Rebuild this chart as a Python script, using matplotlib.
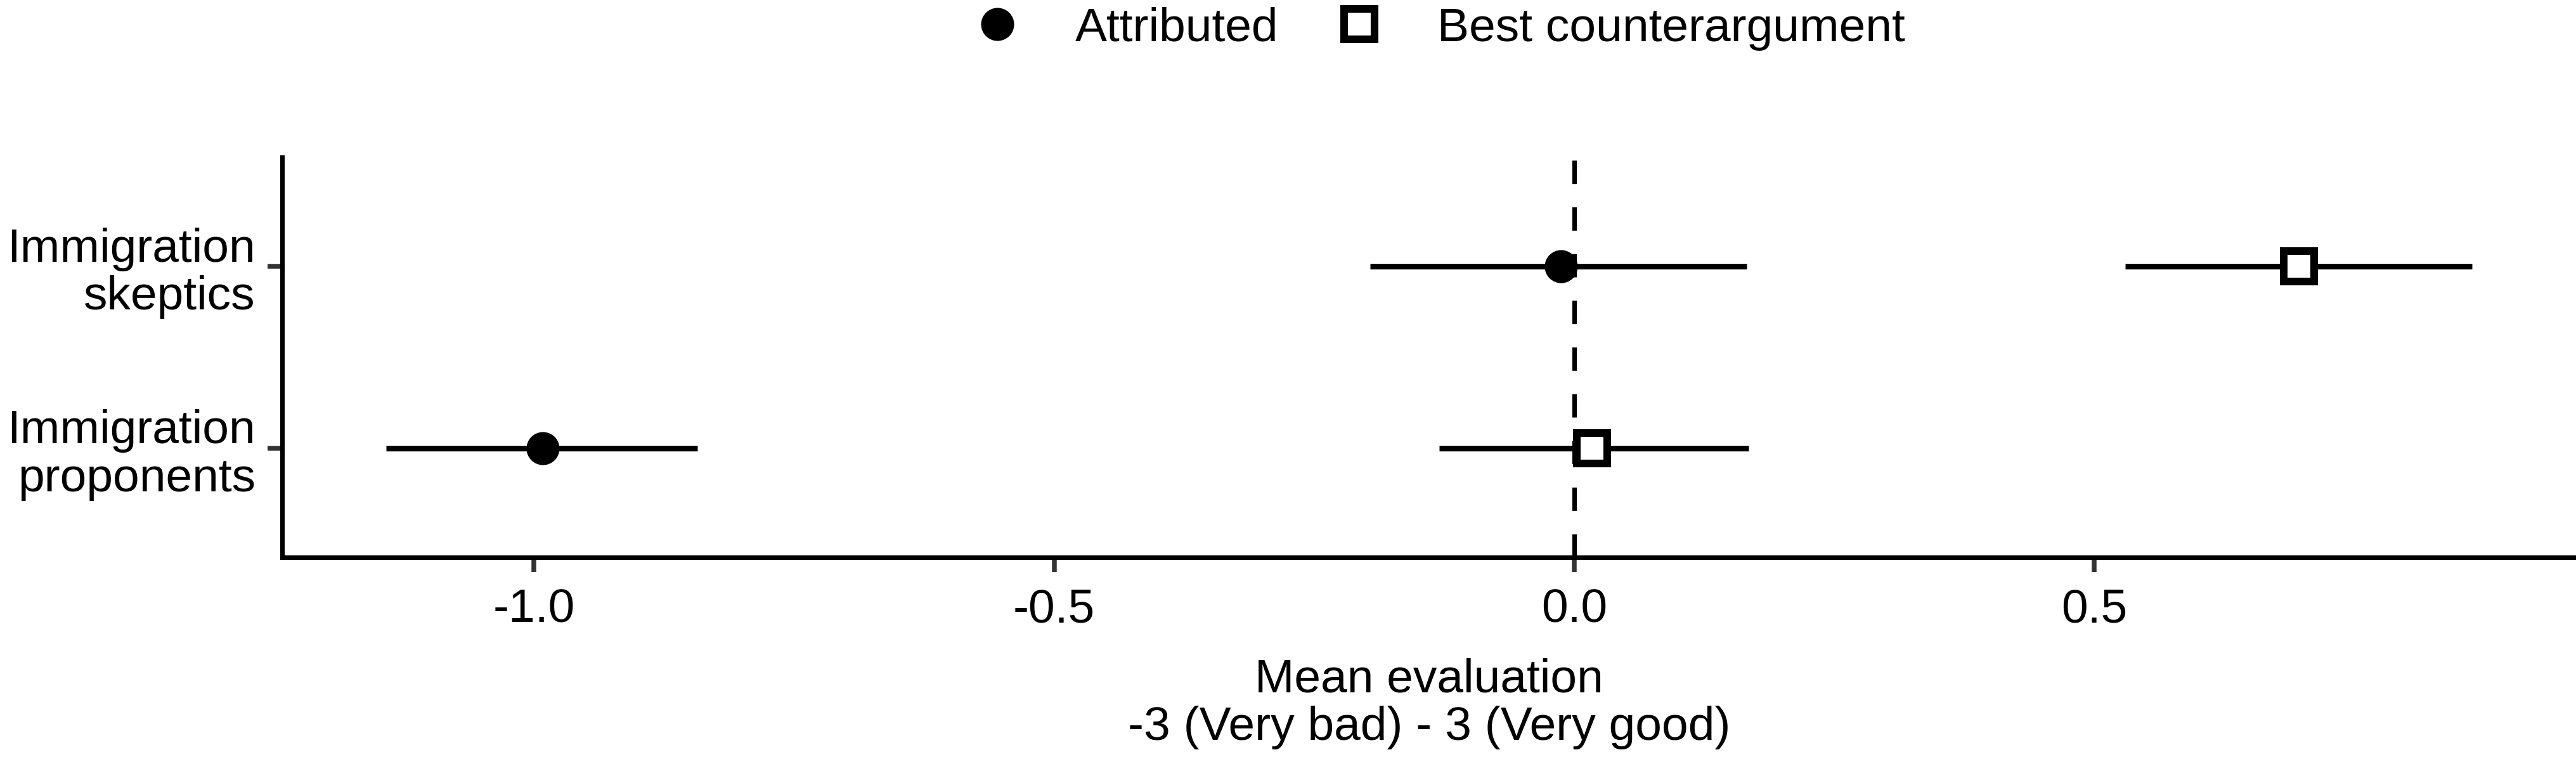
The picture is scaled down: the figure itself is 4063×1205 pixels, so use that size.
import matplotlib
matplotlib.use("Agg")
import matplotlib.pyplot as plt
from matplotlib.lines import Line2D
import numpy as np

# ---------------------------------------------------------------------------
# Data
# ---------------------------------------------------------------------------
groups = ["Immigration\nproponents", "Immigration\nskeptics"]

attributed_mean = [-0.992, -0.013]
attributed_lo = [-1.142, -0.196]
attributed_hi = [-0.843, 0.166]

counter_mean = [0.017, 0.697]
counter_lo = [-0.130, 0.530]
counter_hi = [0.168, 0.863]

xticks = [-1.0, -0.5, 0.0, 0.5]
legend_labels = ["Attributed", "Best counterargument"]
xlabel = "Mean evaluation\n-3 (Very bad) - 3 (Very good)"

# ---------------------------------------------------------------------------
# Style
# ---------------------------------------------------------------------------
plt.rcParams.update({
    "font.family": ["Liberation Sans", "DejaVu Sans"],
    "font.size": 18,
    "axes.unicode_minus": False,
})

W, H, DPI = 4063, 1205, 300
fig = plt.figure(figsize=(W / DPI, H / DPI), dpi=DPI)
ax = fig.add_axes([445 / W, 1 - 879 / H, 1 - 445 / W, (879 - 248) / H])

ypos = np.arange(1, len(groups) + 1)

# reference line at zero
ax.axvline(0, color="black", lw=1.7, ls=(0, (5.2, 5.2)), zorder=1)

# intervals
ax.hlines(ypos, attributed_lo, attributed_hi, color="black", lw=2.1, zorder=2)
ax.hlines(ypos, counter_lo, counter_hi, color="black", lw=2.1, zorder=2)

# point estimates
ax.plot(attributed_mean, ypos, ls="none", marker="o", ms=11.5,
        color="black", zorder=3)
ax.plot(counter_mean, ypos, ls="none", marker="s", ms=11.5,
        mfc="white", mec="black", mew=2.9, zorder=3)

# ggplot-like expansion of the continuous axis (5 %) and discrete axis (0.6)
lo = min(min(attributed_lo), min(counter_lo))
hi = max(max(attributed_hi), max(counter_hi))
pad = 0.05 * (hi - lo)
ax.set_xlim(lo - pad, hi + pad)
ax.set_ylim(ypos[0] - 0.6, ypos[-1] + 0.6)

ax.set_xticks(xticks)
ax.set_xticklabels([f"{t:.1f}" for t in xticks])
ax.set_yticks(ypos)
ax.set_yticklabels(groups, linespacing=1.12, ha="right")

for s in ("top", "right"):
    ax.spines[s].set_visible(False)
for s in ("left", "bottom"):
    ax.spines[s].set_linewidth(1.7)
    ax.spines[s].set_color("black")

ax.tick_params(axis="both", length=5.6, width=1.8, color="#333333",
               labelcolor="black", labelsize=18)
ax.tick_params(axis="x", pad=6)
ax.tick_params(axis="y", pad=4.5)

ax.set_xlabel(xlabel, linespacing=1.12, labelpad=10)

# legend on top, centred over the panel
handles = [
    Line2D([], [], ls="none", marker="o", ms=11.5, color="black"),
    Line2D([], [], ls="none", marker="s", ms=11.5, mfc="white",
           mec="black", mew=2.9),
]
fig.legend(handles, legend_labels, loc="center", ncol=2, frameon=False,
           bbox_to_anchor=(2270 / W, 1 - 45 / H), borderpad=0,
           borderaxespad=0, handlelength=1.0, handletextpad=1.15,
           columnspacing=1.19, fontsize=18)

fig.savefig("out.png", dpi=DPI, facecolor="white")
